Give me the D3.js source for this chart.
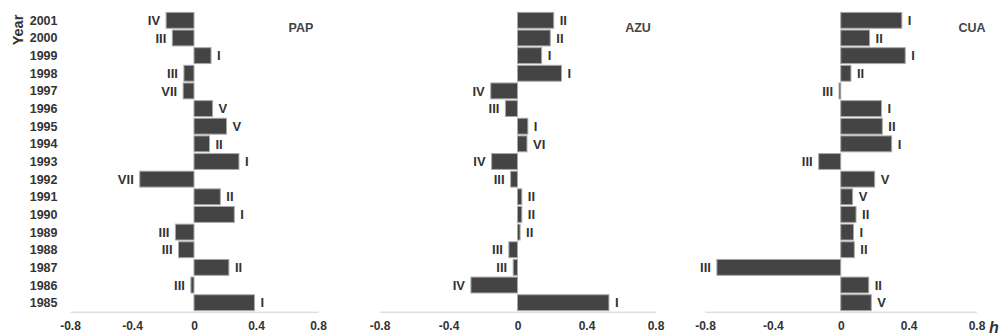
<!DOCTYPE html>
<html>
<head>
<meta charset="utf-8">
<script src="https://cdnjs.cloudflare.com/ajax/libs/d3/7.8.5/d3.min.js"></script>
<style>
  body { margin: 0; background: #fff; }
  svg { display: block; font-family: "Liberation Sans", Arial, sans-serif; }
  .lbl { font-weight: bold; fill: #333; }
</style>
</head>
<body>
<svg id="chart" width="1001" height="336"></svg>
<script>
// years, top to bottom
var years = [2001, 2000, 1999, 1998, 1997, 1996, 1995, 1994, 1993, 1992, 1991, 1990, 1989, 1988, 1987, 1986, 1985];

var papValues = [-0.18, -0.14, 0.11, -0.065, -0.07, 0.12, 0.21, 0.10, 0.29, -0.35, 0.17, 0.26, -0.12, -0.10, 0.225, -0.02, 0.39];
var papTypes  = ['IV', 'III', 'I', 'III', 'VII', 'V', 'V', 'II', 'I', 'VII', 'II', 'I', 'III', 'III', 'II', 'III', 'I'];

var azuValues = [0.21, 0.19, 0.14, 0.255, -0.155, -0.07, 0.06, 0.055, -0.15, -0.04, 0.025, 0.025, 0.015, -0.05, -0.025, -0.27, 0.53];
var azuTypes  = ['II', 'II', 'I', 'I', 'IV', 'III', 'I', 'VI', 'IV', 'III', 'II', 'II', 'II', 'III', 'III', 'IV', 'I'];

var cuaValues = [0.36, 0.17, 0.38, 0.06, -0.01, 0.24, 0.245, 0.30, -0.13, 0.20, 0.07, 0.09, 0.075, 0.08, -0.73, 0.165, 0.18];
var cuaTypes  = ['I', 'II', 'I', 'II', 'III', 'I', 'II', 'I', 'III', 'V', 'V', 'II', 'I', 'II', 'III', 'II', 'V'];

var xTicks = [-0.8, -0.4, 0, 0.4, 0.8];

var svg = d3.select('#chart');

var y = d3.scaleBand()
    .domain(years)
    .range([11.5, 311.5])
    .paddingInner(0.1)
    .paddingOuter(0.05);

// panels: name, values, types, x range
var panels = [
  { name: 'PAP', values: papValues, types: papTypes, range: [70, 318], title: 301 },
  { name: 'AZU', values: azuValues, types: azuTypes, range: [379.5, 655.5], title: 638 },
  { name: 'CUA', values: cuaValues, types: cuaTypes, range: [705, 976.5], title: 972 }
];

// year labels
svg.append('g').selectAll('text')
  .data(years)
  .enter().append('text')
    .attr('class', 'lbl')
    .attr('x', 57.5)
    .attr('y', function(d) { return y(d) + y.bandwidth() / 2; })
    .attr('dy', '0.36em')
    .attr('text-anchor', 'end')
    .style('font-size', '12.5px')
    .text(function(d) { return d; });

svg.append('text')
  .attr('class', 'lbl')
  .attr('transform', 'translate(23,30) rotate(-90)')
  .attr('text-anchor', 'middle')
  .style('font-size', '14.5px')
  .text('Year');

panels.forEach(function(p) {
  var x = d3.scaleLinear().domain([-0.8, 0.8]).range(p.range);
  var g = svg.append('g');

  var rows = years.map(function(yr, i) {
    return { year: yr, v: p.values[i], t: p.types[i] };
  });

  // axis along the bottom
  var axis = g.append('g')
    .attr('transform', 'translate(0,' + 311.7 + ')')
    .call(d3.axisBottom(x).tickValues(xTicks).tickSize(0).tickPadding(10)
      .tickFormat(function(d) { return d === 0 ? '0' : String(d); }));
  axis.select('.domain').attr('stroke', '#d0d0d0').attr('stroke-width', 1);
  axis.selectAll('text')
    .attr('class', 'lbl')
    .attr('fill', '#333')
    .style('font-size', '12px')
    .style('font-family', '"Liberation Sans", Arial, sans-serif');

  // bars
  g.selectAll('rect.bar')
    .data(rows)
    .enter().append('rect')
      .attr('class', 'bar')
      .attr('x', function(d) { return x(Math.min(0, d.v)); })
      .attr('y', function(d) { return y(d.year); })
      .attr('width', function(d) { return Math.abs(x(d.v) - x(0)); })
      .attr('height', y.bandwidth())
      .attr('fill', '#444')
      .attr('stroke', '#a8a8a8')
      .attr('stroke-width', 1);

  // roman numeral labels
  g.selectAll('text.type')
    .data(rows)
    .enter().append('text')
      .attr('class', 'lbl type')
      .attr('x', function(d) { return d.v < 0 ? x(d.v) - 6 : x(d.v) + 6; })
      .attr('y', function(d) { return y(d.year) + y.bandwidth() / 2; })
      .attr('dy', '0.36em')
      .attr('text-anchor', function(d) { return d.v < 0 ? 'end' : 'start'; })
      .style('font-size', '13px')
      .text(function(d) { return d.t; });

  g.append('text')
    .attr('class', 'lbl')
    .attr('x', p.title)
    .attr('y', 27)
    .attr('dy', '0.36em')
    .attr('text-anchor', 'middle')
    .style('font-size', '12.5px')
    .style('fill', '#444')
    .text(p.name);
});

svg.append('text')
  .attr('class', 'lbl')
  .attr('x', 989)
  .attr('y', 333)
  .style('font-size', '16px')
  .style('font-style', 'italic')
  .text('h');
</script>
</body>
</html>
